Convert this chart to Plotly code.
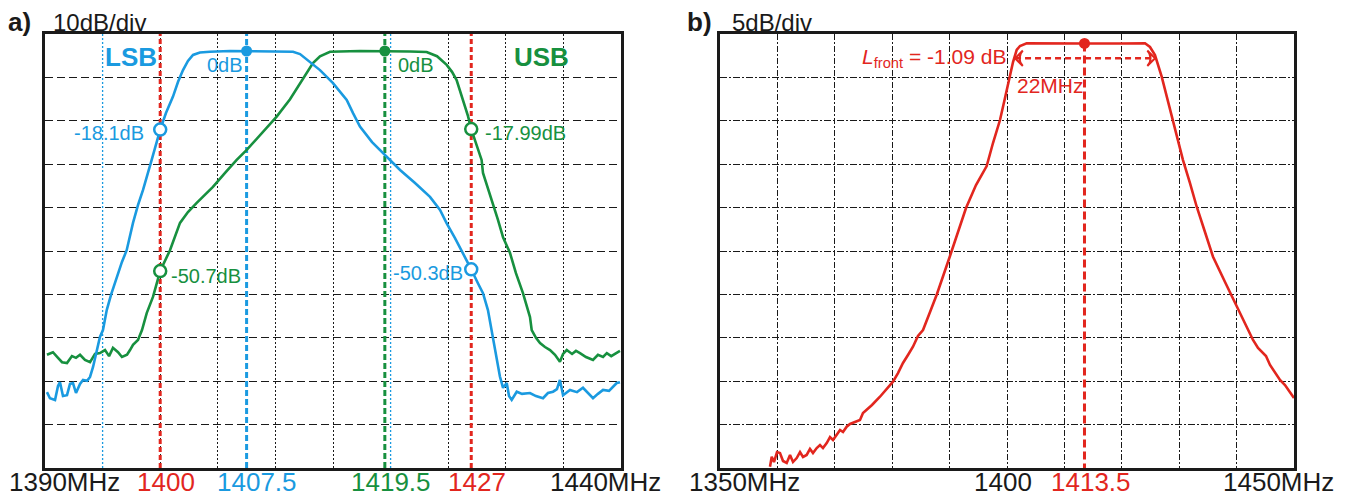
import plotly.graph_objects as go

# ---------------- colours ----------------
BLUE = "#1a9ae0"
GREEN = "#17903f"
RED = "#e2261e"
BLACK = "#1a1a1a"
FONT = "Liberation Sans, Arial, sans-serif"

# ---------------- panel a data (MHz, dB relative to passband) ----------------
lsb_freq = [1390.17, 1390.43, 1390.87, 1391.13, 1391.30, 1391.56, 1391.91, 1392.17, 1392.43, 1392.69,
            1393.04, 1393.30, 1393.65, 1393.91, 1394.17, 1394.51, 1394.77, 1395.03, 1395.36, 1395.73,
            1396.22, 1396.68, 1397.09, 1397.64, 1398.07, 1398.51, 1399.26, 1400.00, 1400.50, 1401.11,
            1401.55, 1401.98, 1402.41, 1402.85, 1403.45, 1404.32, 1406.06, 1407.50, 1409.53, 1411.53,
            1412.14, 1413.00, 1413.87, 1415.00, 1416.19, 1416.74, 1417.34, 1418.39, 1419.66, 1420.82,
            1422.12, 1423.42, 1424.29, 1424.87, 1425.59, 1426.31, 1427.00, 1427.58, 1428.02, 1428.45,
            1428.77, 1428.97, 1429.20, 1429.49, 1429.76, 1430.08, 1430.28, 1430.51, 1430.95, 1431.41,
            1432.10, 1432.62, 1433.23, 1433.66, 1434.10, 1434.44, 1434.70, 1434.97, 1435.57, 1436.18,
            1436.70, 1437.13, 1437.57, 1438.00, 1438.44, 1438.96, 1439.63, 1439.91]
lsb_db = [-78.6, -80.0, -80.4, -77.2, -76.3, -79.5, -79.3, -76.7, -76.5, -78.8,
          -76.7, -75.8, -76.0, -75.1, -72.8, -68.9, -65.9, -64.3, -59.7, -56.2,
          -52.0, -48.6, -45.9, -39.6, -35.5, -32.0, -25.1, -18.1, -14.3, -10.5,
          -7.1, -4.4, -2.3, -0.9, -0.35, -0.16, 0.0, 0.0, 0.0, -0.16,
          -0.7, -2.5, -4.4, -7.4, -11.3, -14.3, -17.4, -21.0, -24.4, -27.4,
          -30.4, -33.6, -36.6, -39.7, -43.1, -46.6, -50.3, -53.5, -55.8, -59.7,
          -64.3, -67.7, -71.2, -75.0, -77.6, -76.5, -79.5, -80.4, -78.5, -79.0,
          -78.8, -79.5, -80.0, -78.8, -78.5, -77.9, -75.8, -79.3, -78.1, -78.6,
          -77.6, -78.8, -80.0, -79.0, -78.1, -78.3, -76.5, -76.3]

usb_freq = [1390.17, 1390.69, 1391.13, 1391.48, 1391.91, 1392.34, 1392.69, 1393.04, 1393.47, 1393.91,
            1394.34, 1394.77, 1395.21, 1395.56, 1395.90, 1396.34, 1396.68, 1397.12, 1397.38, 1397.64,
            1398.07, 1398.42, 1398.83, 1399.38, 1400.00, 1400.85, 1401.72, 1402.41, 1403.17, 1403.89,
            1404.58, 1405.63, 1406.64, 1407.51, 1408.84, 1410.11, 1411.27, 1412.14, 1412.74, 1413.26,
            1413.87, 1414.74, 1417.34, 1419.50, 1421.68, 1423.13, 1424.03, 1424.87, 1425.33, 1425.73,
            1426.28, 1426.72, 1427.00, 1427.41, 1427.90, 1428.02, 1428.45, 1428.89, 1429.32, 1429.76,
            1430.36, 1430.88, 1431.49, 1432.10, 1432.25, 1432.62, 1432.97, 1433.40, 1433.84, 1434.27,
            1434.70, 1434.97, 1435.29, 1435.75, 1436.09, 1436.44, 1436.96, 1437.57, 1438.00, 1438.44,
            1438.77, 1439.15, 1439.63, 1439.91]
usb_db = [-70.0, -69.4, -70.7, -71.7, -71.9, -70.3, -70.7, -70.0, -71.2, -71.7,
          -69.8, -69.6, -68.9, -70.3, -68.4, -69.4, -70.5, -70.0, -68.9, -67.7,
          -66.6, -64.3, -60.4, -56.6, -50.7, -45.9, -39.6, -37.1, -35.0, -33.2,
          -31.3, -28.1, -25.1, -22.8, -18.9, -15.1, -11.1, -7.4, -5.1, -2.8,
          -1.2, -0.16, 0.0, 0.0, -0.1, -0.23, -1.2, -3.2, -4.8, -6.7,
          -11.3, -15.0, -17.99, -21.0, -25.1, -28.1, -31.6, -35.0, -38.9, -42.9,
          -46.5, -51.2, -55.8, -61.3, -64.3, -66.1, -67.3, -68.2, -68.9, -70.0,
          -71.6, -69.8, -68.9, -69.8, -69.1, -69.6, -70.5, -71.2, -70.0, -70.5,
          -69.6, -70.3, -69.6, -69.1]

# marker frequencies / levels (panel a)
LSB_CENTER = 1407.5
USB_CENTER = 1419.5
EDGE_FREQS = [1400, 1427]
lsb_edge_db = [-18.1, -50.3]
usb_edge_db = [-50.7, -17.99]
lsb_edge_text = ["-18.1dB", "-50.3dB"]
usb_edge_text = ["-50.7dB", "-17.99dB"]
PEAK_DB = 0

a_xrange = [1390, 1440]
a_yrange = [-96.08, 3.92]
a_label_vals = [1390, 1400, 1407.5, 1419.5, 1427, 1440]
a_label_text = ["1390MHz", "1400", "1407.5", "1419.5", "1427", "1440MHz"]
a_label_col = [BLACK, RED, BLUE, GREEN, RED, BLACK]

# ---------------- panel b data ----------------
front_freq = [1358.71, 1359.01, 1359.41, 1359.93, 1360.45, 1360.98, 1361.62, 1362.20, 1362.72, 1363.36,
              1363.94, 1364.46, 1365.10, 1365.68, 1366.20, 1366.85, 1367.42, 1367.94, 1368.59, 1369.16,
              1369.69, 1370.33, 1370.91, 1371.43, 1372.07, 1372.65, 1373.52, 1374.39, 1374.91, 1375.56,
              1376.48, 1377.87, 1378.92, 1380.14, 1381.01, 1381.88, 1382.75, 1383.62, 1384.49, 1385.37,
              1386.59, 1387.80, 1390.07, 1392.86, 1394.60, 1396.46, 1397.56, 1398.78, 1399.65, 1400.52,
              1401.05, 1401.69, 1402.26, 1403.43, 1408.0, 1413.5, 1420.0, 1424.04, 1424.91, 1425.78,
              1426.95, 1427.87, 1428.92, 1429.79, 1430.66, 1431.88, 1433.05, 1434.49, 1435.89, 1437.98,
              1440.02, 1441.46, 1442.86, 1443.73, 1444.43, 1445.12, 1445.82, 1446.69, 1447.56, 1448.43,
              1449.30, 1450.0]
front_db = [-49.85, -48.70, -49.31, -48.16, -48.27, -49.19, -49.42, -48.50, -49.31, -48.85,
            -48.16, -48.73, -48.50, -47.81, -48.27, -47.70, -47.35, -47.70, -47.12, -46.43,
            -46.77, -46.20, -45.62, -45.85, -45.24, -44.93, -44.70, -44.47, -43.66, -43.32,
            -42.74, -41.79, -41.01, -40.06, -39.06, -37.90, -36.98, -36.03, -34.79, -34.10,
            -32.03, -29.95, -25.58, -20.05, -17.40, -15.21, -12.56, -9.91, -7.37, -4.92,
            -3.23, -1.84, -1.38, -1.07, -1.05, -1.09, -1.09, -1.07, -1.50, -2.42,
            -4.92, -7.26, -9.91, -12.21, -14.52, -17.17, -19.90, -22.81, -25.66, -28.57,
            -31.42, -33.29, -35.25, -36.18, -36.64, -37.10, -38.13, -39.06, -39.86, -40.44,
            -41.36, -41.94]

FRONT_CENTER = 1413.5
FRONT_LOSS = -1.09
BW_START = 1401.4
BW_END = 1425.8
BW_LEVEL = -2.8

b_xrange = [1350, 1450]
b_yrange = [-50, 0]
b_label_vals = [1350, 1400, 1413.5, 1450]
b_label_text = ["1350MHz", "1400", "1413.5", "1450MHz"]
b_label_col = [BLACK, BLACK, RED, BLACK]

# ---------------- layout geometry ----------------
W, H = 1352, 499
A_X = [45 / W, 621 / W]
B_X = [720 / W, 1294 / W]
Y_DOM = [1 - 468 / H, 1 - 34 / H]

fig = go.Figure()

# panel a vertical marker lines
for f, col, dash in [(EDGE_FREQS[0], RED, "5px,3px"), (EDGE_FREQS[1], RED, "5px,3px"),
                     (LSB_CENTER, BLUE, "6px,3px"), (USB_CENTER, GREEN, "6px,3px")]:
    fig.add_trace(go.Scatter(x=[f, f], y=a_yrange, mode="lines", xaxis="x", yaxis="y",
                             line=dict(color=col, width=3, dash=dash), hoverinfo="skip", showlegend=False))

# blue-ish grid lines of the overlaid screen
for f in [1395, 1420]:
    fig.add_trace(go.Scatter(x=[f, f], y=a_yrange, mode="lines", xaxis="x", yaxis="y",
                             line=dict(color=BLUE, width=1.3, dash="2px,2px"), hoverinfo="skip", showlegend=False))

# curves
fig.add_trace(go.Scatter(x=usb_freq, y=usb_db, mode="lines", xaxis="x", yaxis="y",
                         line=dict(color=GREEN, width=2.6), showlegend=False))
fig.add_trace(go.Scatter(x=lsb_freq, y=lsb_db, mode="lines", xaxis="x", yaxis="y",
                         line=dict(color=BLUE, width=2.6), showlegend=False))

# peak markers
fig.add_trace(go.Scatter(x=[LSB_CENTER], y=[PEAK_DB], mode="markers", xaxis="x", yaxis="y",
                         marker=dict(color=BLUE, size=11), showlegend=False))
fig.add_trace(go.Scatter(x=[USB_CENTER], y=[PEAK_DB], mode="markers", xaxis="x", yaxis="y",
                         marker=dict(color=GREEN, size=11), showlegend=False))
# edge markers (open)
fig.add_trace(go.Scatter(x=EDGE_FREQS, y=lsb_edge_db, mode="markers", xaxis="x", yaxis="y",
                         marker=dict(color="white", size=12, line=dict(color=BLUE, width=2.5)), showlegend=False))
fig.add_trace(go.Scatter(x=EDGE_FREQS, y=usb_edge_db, mode="markers", xaxis="x", yaxis="y",
                         marker=dict(color="white", size=12, line=dict(color=GREEN, width=2.5)), showlegend=False))

# panel b
fig.add_trace(go.Scatter(x=[FRONT_CENTER, FRONT_CENTER], y=[FRONT_LOSS, b_yrange[0]], mode="lines",
                         xaxis="x2", yaxis="y2", line=dict(color=RED, width=3, dash="8px,4px"),
                         hoverinfo="skip", showlegend=False))
fig.add_trace(go.Scatter(x=[BW_START, BW_END], y=[BW_LEVEL, BW_LEVEL], mode="lines",
                         xaxis="x2", yaxis="y2", line=dict(color=RED, width=2.5, dash="6px,4px"),
                         hoverinfo="skip", showlegend=False))
fig.add_trace(go.Scatter(x=front_freq, y=front_db, mode="lines", xaxis="x2", yaxis="y2",
                         line=dict(color=RED, width=2.6), showlegend=False))
fig.add_trace(go.Scatter(x=[FRONT_CENTER], y=[FRONT_LOSS], mode="markers", xaxis="x2", yaxis="y2",
                         marker=dict(color=RED, size=11), showlegend=False))
# arrowheads of the bandwidth arrow (chevrons)
fig.add_trace(go.Scatter(x=[BW_START, BW_END], y=[BW_LEVEL, BW_LEVEL], mode="markers",
                         xaxis="x2", yaxis="y2",
                         marker=dict(symbol="arrow-wide-open", angle=[-90, 90], size=11, color=RED,
                                     line=dict(color=RED, width=2)),
                         hoverinfo="skip", showlegend=False))

ann = []


def txt(x, y, s, col, size, xanchor="center", xref="x", yref="y", bold=False, xshift=0, yshift=0,
        yanchor="middle"):
    return dict(x=x, y=y, text=("<b>%s</b>" % s) if bold else s, xref=xref, yref=yref,
                xanchor=xanchor, yanchor=yanchor, showarrow=False, xshift=xshift, yshift=yshift,
                font=dict(family=FONT, size=size, color=col))


# panel a texts
ann.append(txt(EDGE_FREQS[0], PEAK_DB, "LSB", BLUE, 26, "right", bold=True, xshift=-1, yshift=-6))
ann.append(txt(1430.5, PEAK_DB, "USB", GREEN, 26, "left", bold=True, yshift=-6))
ann.append(txt(LSB_CENTER, PEAK_DB, "0dB", BLUE, 20, "right", xshift=-2, yshift=-14))
ann.append(txt(USB_CENTER, PEAK_DB, "0dB", GREEN, 20, "left", xshift=11, yshift=-14))
ann.append(txt(EDGE_FREQS[0], lsb_edge_db[0], lsb_edge_text[0], BLUE, 20, "right", xshift=-14, yshift=-3))
ann.append(txt(EDGE_FREQS[1], usb_edge_db[1], usb_edge_text[1], GREEN, 20, "left", xshift=12, yshift=-4))
ann.append(txt(EDGE_FREQS[0], usb_edge_db[0], usb_edge_text[0], GREEN, 20, "left", xshift=9, yshift=-5))
ann.append(txt(EDGE_FREQS[1], lsb_edge_db[1], lsb_edge_text[1], BLUE, 20, "right", xshift=-6, yshift=-4))

# panel b texts
ann.append(txt(1400.2, BW_LEVEL, "<i>L</i><sub>front</sub> = -1.09 dB", RED, 21, "right",
               xref="x2", yref="y2"))
ann.append(txt(BW_START, BW_LEVEL, "22MHz", RED, 21, "left", xref="x2", yref="y2", yshift=-27))

# bottom frequency labels (anchored to the bottom edge of the picture)
a_shift = [(-38, "left"), (6, "center"), (10, "center"), (6, "center"), (6, "center"), (42, "right")]
for v, s, c, (sh, anc) in zip(a_label_vals, a_label_text, a_label_col, a_shift):
    ann.append(txt(v, 0, s, c, 26, anc, xref="x", yref="paper", xshift=sh, yanchor="bottom"))
b_shift = [(-33, "left"), (-4, "center"), (7, "center"), (42, "right")]
for v, s, c, (sh, anc) in zip(b_label_vals, b_label_text, b_label_col, b_shift):
    ann.append(txt(v, 0, s, c, 26, anc, xref="x2", yref="paper", xshift=sh, yanchor="bottom"))

# panel titles
TOP_Y = 1 - 22 / H
ann.append(txt(6 / W, TOP_Y, "a)", BLACK, 26, "left", xref="paper", yref="paper", bold=True))
ann.append(txt(51 / W, TOP_Y, "10dB/div", BLACK, 24, "left", xref="paper", yref="paper"))
ann.append(txt(685 / W, TOP_Y, "b)", BLACK, 26, "left", xref="paper", yref="paper", bold=True))
ann.append(txt(730 / W, TOP_Y, "5dB/div", BLACK, 24, "left", xref="paper", yref="paper"))

axis_common = dict(showline=True, mirror=True, linecolor=BLACK, linewidth=3, showticklabels=False,
                   ticks="", zeroline=False, showgrid=True, gridwidth=1.3)

fig.update_layout(
    width=W, height=H, autosize=False,
    margin=dict(l=0, r=0, t=0, b=0),
    paper_bgcolor="white", plot_bgcolor="white",
    annotations=ann,
    xaxis=dict(domain=A_X, range=a_xrange, tick0=1390, dtick=5, gridcolor=BLACK,
               griddash="2px,2px", anchor="y", **axis_common),
    yaxis=dict(domain=Y_DOM, range=a_yrange, tick0=a_yrange[1], dtick=10, gridcolor=BLACK,
               griddash="8px,4px", anchor="x", **axis_common),
    xaxis2=dict(domain=B_X, range=b_xrange, tick0=1350, dtick=10, gridcolor=BLACK,
                griddash="6px,2px,2px,2px", anchor="y2", **axis_common),
    yaxis2=dict(domain=Y_DOM, range=b_yrange, tick0=0, dtick=5, gridcolor=BLACK,
                griddash="7px,2px,2px,2px", anchor="x2", **axis_common),
)

fig.write_html("out.html", config={"displayModeBar": False},
               post_script="document.body.style.margin='0';document.body.style.overflow='hidden';")
